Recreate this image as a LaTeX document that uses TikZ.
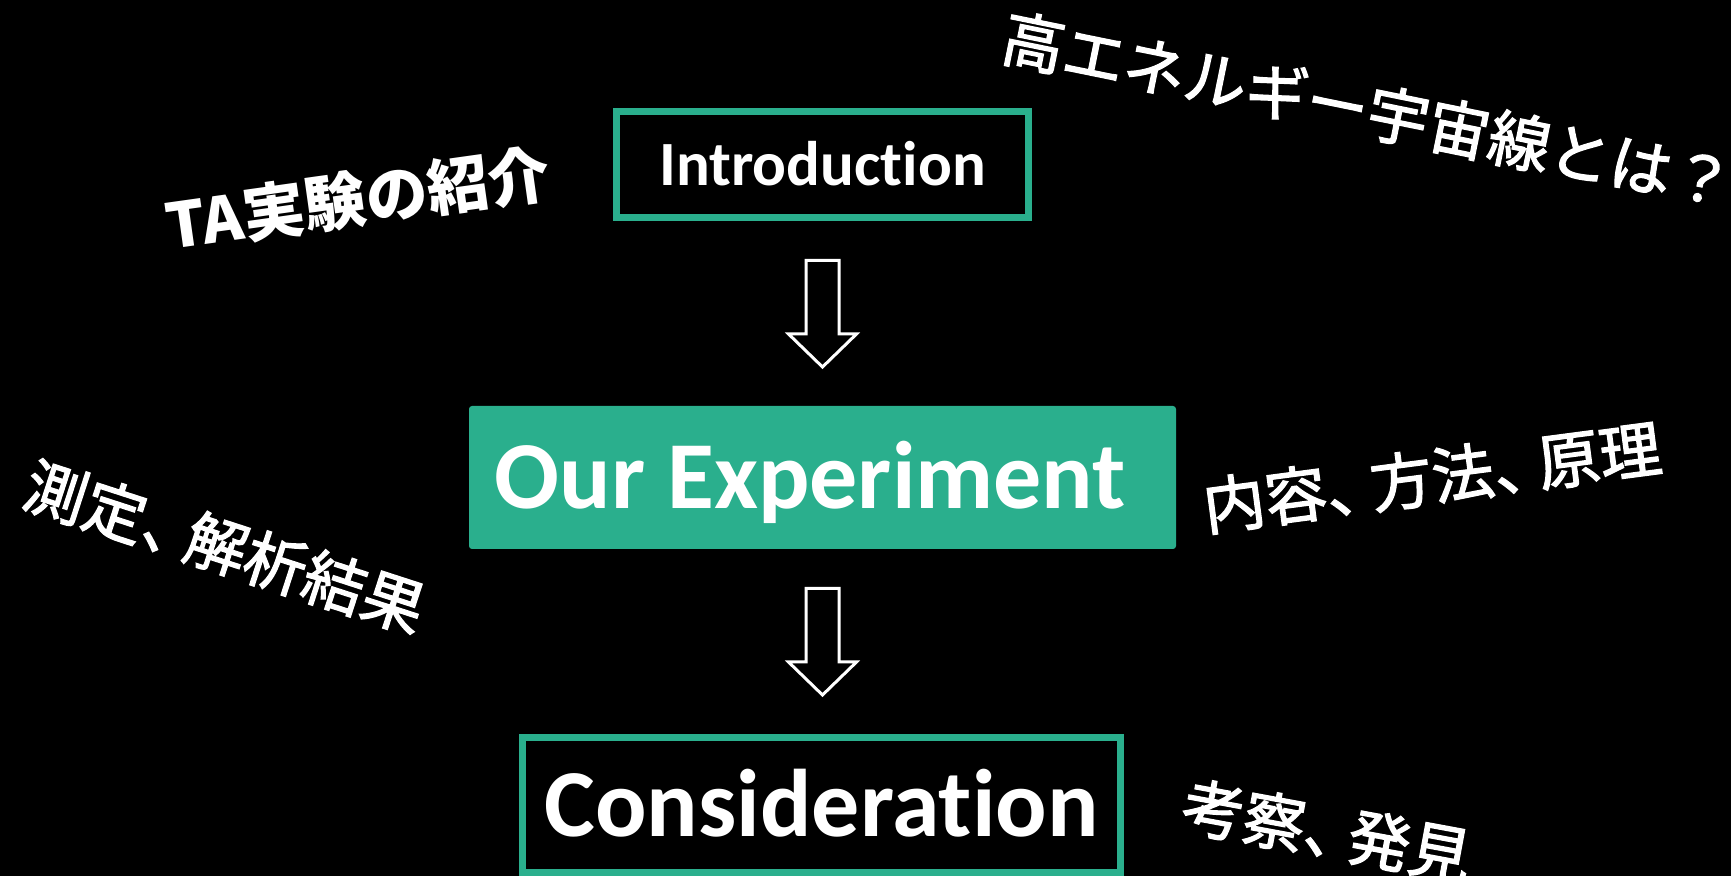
\documentclass[tikz,border=0pt]{standalone}
\usepackage{fontspec}
\setmainfont{Carlito}[Ligatures={NoCommon,NoContextual}]
\newfontfamily\jpfont{Noto Sans CJK JP}[FakeBold=2]
\newfontfamily\jpbold{Noto Sans CJK JP}
\definecolor{teal}{RGB}{42,175,141}
\begin{document}
\begin{tikzpicture}[x=0.5pt,y=-0.5pt,
  outlinebox/.style={draw=teal, line width=3.5pt, fill=black, inner sep=0pt, text=white, text depth=0pt},
  fillbox/.style={fill=teal, rounded corners=1.5pt, inner sep=0pt, text=white, text depth=0pt},
  jplabel/.style={text=white, inner sep=0pt, font=\jpfont\fontsize{31pt}{36pt}\selectfont},
  blockarrow/.style={draw=white, fill=black, line width=1.5pt, line join=miter}
]
\fill[black] (0,0) rectangle (1731,876);
\useasboundingbox (0,0) rectangle (1731,876);

\node[outlinebox, minimum width=206pt, minimum height=53pt, text height=21pt,
      font=\bfseries\fontsize{31.5pt}{38pt}\selectfont] (intro) at (822.5,164.5) {Introduction};
\node[fillbox, minimum width=353.5pt, minimum height=71.5pt, text height=31pt,
      font=\bfseries\fontsize{48pt}{58pt}\selectfont] (exp) at (822.5,477.5) {Our Experiment\kern12pt};
\node[outlinebox, minimum width=299pt, minimum height=67.5pt, text height=32pt,
      font=\bfseries\fontsize{48pt}{60pt}\selectfont] (cons) at (821.5,805) {Consideration};

\coordinate (a1) at (822.5,260.5);
\coordinate (a2) at (822.5,588.5);
\draw[blockarrow] (a1) ++(-16.5,0) -- ++(0,73.5) -- ++(-17.5,0) -- ++(34,33) -- ++(34,-33) -- ++(-17.5,0) -- ++(0,-73.5) -- cycle;
\draw[blockarrow] (a2) ++(-16.5,0) -- ++(0,73.5) -- ++(-17.5,0) -- ++(34,33) -- ++(34,-33) -- ++(-17.5,0) -- ++(0,-73.5) -- cycle;

\node[jplabel, font=\jpbold\bfseries\fontsize{31pt}{36pt}\selectfont, rotate=8] (ta) at (358,199) {TA実験の紹介};
\node[jplabel, rotate=-11.5] (cr) at (1368,110) {高エネルギー宇宙線とは？};
\node[jplabel, rotate=7.5] (naiyo) at (1432,477) {内容、\kern-0.28em方法、\kern-0.28em原理};
\node[jplabel, rotate=-18] (sokutei) at (225,547) {測定、\kern-0.28em解析結果};
\node[jplabel, rotate=-10.5] (kosatsu) at (1327,831) {考察、\kern-0.28em発見};
\end{tikzpicture}
\end{document}
